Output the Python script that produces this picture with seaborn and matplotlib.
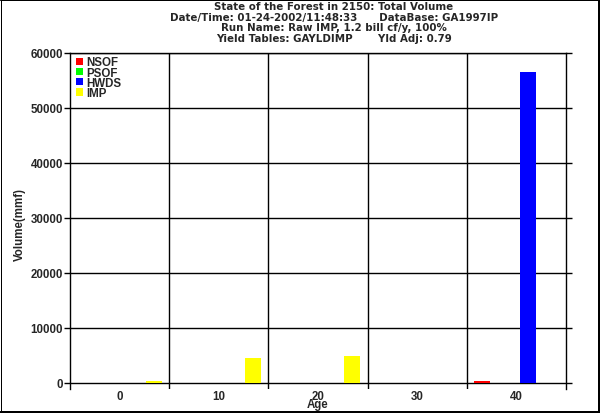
import numpy as np
import pandas as pd
import matplotlib
matplotlib.use("Agg")
import matplotlib.pyplot as plt
from matplotlib.lines import Line2D
import seaborn as sns

ages = ["0", "10", "20", "30", "40"]
types = ["NSOF", "PSOF", "HWDS", "IMP"]
nsof = [0, 0, 0, 0, 400]
psof = [0, 0, 0, 0, 0]
hwds = [0, 0, 0, 0, 56500]
imp = [400, 4600, 4900, 0, 0]
colors = ["#ff0000", "#00ff00", "#0000ff", "#ffff00"]
yticks = [0, 10000, 20000, 30000, 40000, 50000, 60000]
title_lines = [
    "State of the Forest in 2150: Total Volume",
    "Date/Time: 01-24-2002/11:48:33      DataBase: GA1997IP",
    "Run Name: Raw IMP, 1.2 bill cf/y, 100%",
    "Yield Tables: GAYLDIMP       Yld Adj: 0.79",
]

sns.set_style("white")
plt.rcParams["font.family"] = ["Liberation Sans", "DejaVu Sans"]
plt.rcParams["font.weight"] = "bold"
FS = 8.3
TFS = 7.4

rows = []
for t, vals in zip(types, [nsof, psof, hwds, imp]):
    for a, v in zip(ages, vals):
        rows.append({"Age": a, "Volume": v, "Type": t})
df = pd.DataFrame(rows)

W, H = 600, 414
fig = plt.figure(figsize=(6, 4.14), dpi=100)
ax = fig.add_axes([70 / W, 1 - 390 / H, (566 - 70) / W, (390 - 54) / H])

sns.barplot(data=df, x="Age", y="Volume", hue="Type", order=ages, hue_order=types,
            palette=colors, saturation=1, width=0.92, gap=0.3, errorbar=None,
            linewidth=0, ax=ax)

# y range: 0 sits 6px above the bottom of the axes
ax.set_ylim(-6 / 330 * 60000, 60000)
ax.set_xlim(-0.5, len(ages) - 0.5)
ax.set_yticks(yticks)
ax.set_yticklabels([str(v) for v in yticks], fontsize=FS, fontweight="bold")
ax.set_xticks(range(len(ages)))
ax.set_xticklabels(ages, fontsize=FS, fontweight="bold")
ax.set_xticks(np.arange(0.5, len(ages) - 1, 1.0), minor=True)
ax.tick_params(axis="x", which="both", length=0, pad=0.5)
ax.tick_params(axis="y", which="major", length=4, width=1, color="black", pad=1,
               left=True, right=True, direction="out")
ax.grid(True, axis="y", which="major", color="black", linewidth=1)
ax.grid(True, axis="x", which="minor", color="black", linewidth=1)
ax.grid(False, axis="x", which="major")
for s in ["left", "right", "top"]:
    ax.spines[s].set_visible(True)
    ax.spines[s].set_color("black")
    ax.spines[s].set_linewidth(1)
ax.spines["bottom"].set_visible(False)

ax.set_xlabel("Age", fontsize=FS, fontweight="bold")
ax.xaxis.set_label_coords(0.5, (390 - 399) / 336)
ax.set_ylabel("Volume(mmf)", fontsize=FS, fontweight="bold")
ax.yaxis.set_label_coords((26 - 70) / 496, (390 - 225) / 336)

leg = ax.legend(loc="upper left", bbox_to_anchor=(6 / 496, 1 - 3.5 / 336),
                frameon=False, prop={"weight": "bold", "size": FS},
                handlelength=0.6, handleheight=0.6, handletextpad=0.25,
                labelspacing=-0.16, borderpad=0, borderaxespad=0)

ys = [7, 17.5, 28, 38.5]
for line, y in zip(title_lines, ys):
    fig.text(334 / W, 1 - y / H, line, ha="center", va="center",
             fontsize=TFS, fontweight="bold", family=["DejaVu Sans"])

# figure frame
px = 0.72
fig.add_artist(Line2D([0.5 / W, 0.5 / W], [0, 1], transform=fig.transFigure, color="black", lw=1 * px))
fig.add_artist(Line2D([0, 1], [1 - 0.5 / H, 1 - 0.5 / H], transform=fig.transFigure, color="black", lw=1 * px))
fig.add_artist(Line2D([1 - 1 / W, 1 - 1 / W], [0, 1], transform=fig.transFigure, color="black", lw=2 * px))
fig.add_artist(Line2D([0, 1], [1.5 / H, 1.5 / H], transform=fig.transFigure, color="black", lw=3 * px))

fig.savefig("out.png", dpi=100)
